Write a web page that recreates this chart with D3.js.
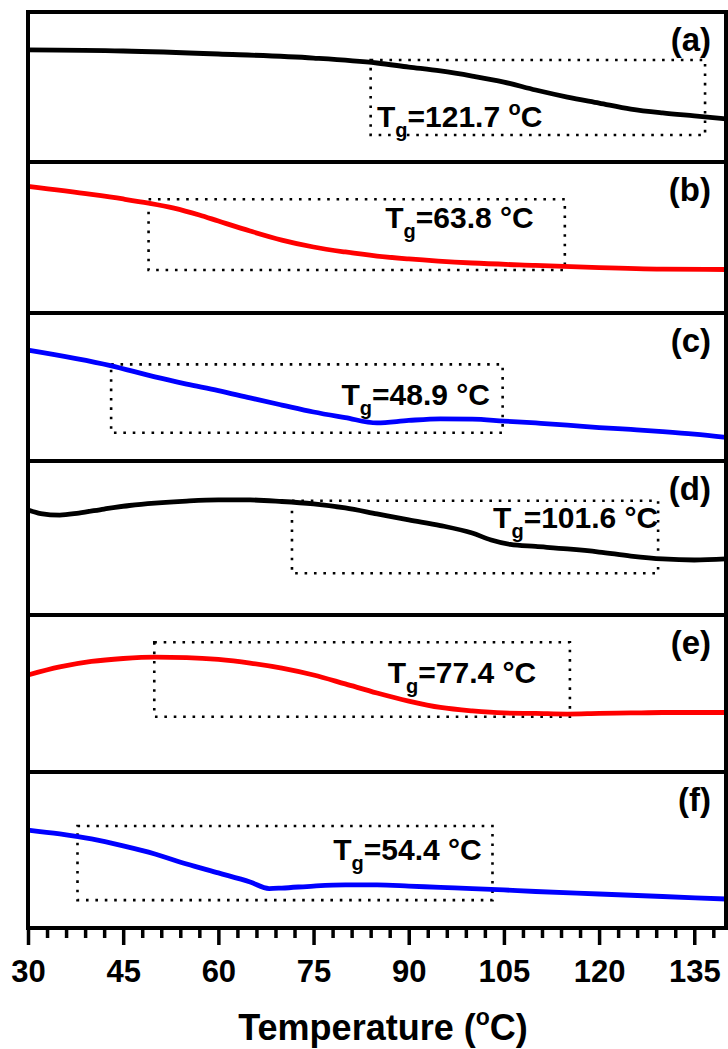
<!DOCTYPE html>
<html>
<head>
<meta charset="utf-8">
<script src="https://cdn.jsdelivr.net/npm/d3@7"></script>
<style>
  html, body { margin: 0; padding: 0; background: #fff; }
  svg { display: block; font-family: "Liberation Sans", Arial, sans-serif; font-weight: bold; }
</style>
</head>
<body>
<svg id="chart" width="728" height="1049"></svg>
<script>
// DSC traces, heat flow in arbitrary units (0-100 within each panel)
const curveA = [[30,74.7],[45,74],[60,72],[75,69.3],[85,66],[90,63.3],[95,60.7],[100,57.3],[105,53.3],[110,48],[115,43.3],[120,39.3],[125,35.3],[130,32.7],[135,30.7],[140,28.7]];
const curveB = [[30,83.8],[40,78.5],[45,75.5],[49,72.8],[53,69.5],[57,64.9],[60,60.9],[65,54.3],[70,48.3],[75,43.7],[80,40.4],[85,37.7],[90,35.8],[100,33.1],[110,31.5],[120,30.1],[130,29.1],[140,28.8]];
const curveC = [[30,75],[43,64.5],[50,56.8],[55,52],[60,47.6],[65,42.6],[70,37.8],[75,33.1],[80,29.3],[85,25.7],[90,27.4],[95,28.5],[100,28.3],[105,27],[110,25.7],[115,24.3],[120,22.6],[125,21.3],[130,19.9],[135,18.2],[140,15.9]];
const curveD = [[30,68.2],[32,65.9],[35,64.9],[38,66.2],[42,68.8],[46,71.1],[50,72.7],[55,74],[60,74.7],[65,74.7],[70,73.7],[75,72.1],[80,69.5],[85,65.6],[90,61.7],[95,58.1],[100,53.2],[103,48.7],[106,45.8],[110,44.5],[115,42.9],[120,40.9],[125,38.3],[130,36.4],[135,35.7],[140,36.4]];
const curveE = [[30,61.8],[35,66.9],[40,70.4],[45,72.3],[50,73.2],[55,72.9],[60,71.7],[65,69.4],[70,66.2],[75,61.8],[80,56.1],[85,50.3],[90,45.2],[95,41.1],[100,38.9],[105,37.6],[110,37.3],[115,36.9],[120,37.3],[125,37.6],[130,37.9],[140,37.9]];
const curveF = [[30,62.8],[35,60.3],[40,57.1],[45,52.6],[50,47.4],[55,41],[60,35.3],[65,29.5],[68,25.3],[70,25.6],[75,26.9],[80,27.6],[85,27.6],[90,26.9],[95,26],[100,25.3],[105,24.4],[110,23.4],[120,21.8],[130,20.2],[140,18.6]];

const panelTags = ["(a)", "(b)", "(c)", "(d)", "(e)", "(f)"];
const tgValues = [121.7, 63.8, 48.9, 101.6, 77.4, 54.4];
// Tg region boxes: [T start, T end, top, bottom]
const tgBoxes = [[84, 136.7, 68, 18], [49, 114.6, 75.3, 28.5], [43.1, 104.8, 65.3, 19.1], [71.6, 129.3, 74.2, 27.1], [49.9, 115.4, 82.6, 35.2], [37.8, 103.2, 65.4, 17.9]];
// Tg label anchor: [T, heat flow]
const tgLabelAt = [[85, 23.5], [86.3, 56.3], [79.4, 37.8], [103.3, 56.3], [86.7, 56.7], [78.1, 43.6]];
const majorTicks = [30, 45, 60, 75, 90, 105, 120, 135];
const tempDomain = [30, 140];

const curves = [curveA, curveB, curveC, curveD, curveE, curveF];
const colors = ["#000000", "#ff0000", "#0000ff", "#000000", "#ff0000", "#0000ff"];

const svg = d3.select("#chart");
const left = 28, right = 726;
const edges = [12, 162, 313, 461, 615, 772, 928];

const x = d3.scaleLinear().domain(tempDomain).range([left, right]);

const plot = svg.append("g");

curves.forEach((data, i) => {
  const top = edges[i], bottom = edges[i + 1];
  const y = d3.scaleLinear().domain([0, 100]).range([bottom, top]);
  const g = plot.append("g");

  // dotted Tg box
  const b = tgBoxes[i];
  g.append("rect")
    .attr("x", x(b[0])).attr("y", y(b[2]))
    .attr("width", x(b[1]) - x(b[0])).attr("height", y(b[3]) - y(b[2]))
    .attr("fill", "none").attr("stroke", "#000")
    .attr("stroke-width", 2.6).attr("stroke-dasharray", "2.6,6.8");

  // trace
  g.append("path")
    .datum(data)
    .attr("fill", "none")
    .attr("stroke", colors[i])
    .attr("stroke-width", 4.8)
    .attr("stroke-linejoin", "round")
    .attr("d", d3.line().x(d => x(d[0])).y(d => y(d[1])).curve(d3.curveMonotoneX));

  // Tg label
  const la = tgLabelAt[i];
  const t = g.append("text")
    .attr("x", x(la[0])).attr("y", y(la[1]))
    .attr("font-size", 30).attr("fill", "#000");
  t.append("tspan").text("T");
  t.append("tspan").attr("font-size", 20).attr("dy", 10).text("g");
  t.append("tspan").attr("dy", -10).text("=" + tgValues[i].toFixed(1) + " ");
  if (i === 0) {
    t.append("tspan").attr("font-size", 20).attr("dy", -12).text("o");
    t.append("tspan").attr("dy", 12).text("C");
  } else {
    t.append("tspan").text("\u00B0C");
  }

  // panel tag
  g.append("text")
    .attr("x", 711).attr("y", top + 39)
    .attr("text-anchor", "end")
    .attr("font-size", 33).attr("fill", "#000")
    .text(panelTags[i]);
});

// frame and panel separators
plot.append("rect")
  .attr("x", left).attr("y", edges[0])
  .attr("width", right - left).attr("height", edges[6] - edges[0])
  .attr("fill", "none").attr("stroke", "#000").attr("stroke-width", 4);
plot.selectAll("line.sep")
  .data(edges.slice(1, 6))
  .join("line")
  .attr("class", "sep")
  .attr("x1", left).attr("x2", right)
  .attr("y1", d => d).attr("y2", d => d)
  .attr("stroke", "#000").attr("stroke-width", 4);

// bottom axis: minor ticks every 3 °C, major every 15 °C
const minorTicks = d3.range(30, 140, 3).filter(v => !majorTicks.includes(v));
const minorAxis = svg.append("g")
  .attr("transform", `translate(0,${edges[6]})`)
  .call(d3.axisBottom(x).tickValues(minorTicks).tickSize(10).tickFormat(""));
const majorAxis = svg.append("g")
  .attr("transform", `translate(0,${edges[6]})`)
  .call(d3.axisBottom(x).tickValues(majorTicks).tickSize(17).tickPadding(15).tickFormat(d3.format("d")));
[minorAxis, majorAxis].forEach(a => {
  a.select(".domain").remove();
  a.selectAll(".tick line").attr("stroke", "#000").attr("stroke-width", 3.5);
});
majorAxis.selectAll(".tick text")
  .attr("font-family", "Liberation Sans, Arial, sans-serif")
  .attr("font-weight", "bold")
  .attr("font-size", 31)
  .attr("fill", "#000");

// axis title
const title = svg.append("text")
  .attr("x", 383).attr("y", 1040)
  .attr("text-anchor", "middle")
  .attr("font-size", 36).attr("fill", "#000");
title.append("tspan").text("Temperature (");
title.append("tspan").attr("font-size", 23).attr("dy", -15).text("o");
title.append("tspan").attr("dy", 15).text("C)");
</script>
</body>
</html>
